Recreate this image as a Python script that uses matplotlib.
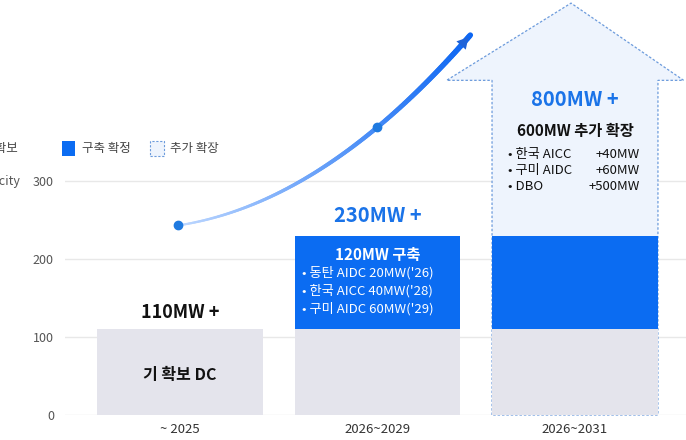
import matplotlib
matplotlib.use("Agg")
import matplotlib.pyplot as plt
import numpy as np
from matplotlib.patches import Polygon, Rectangle
from matplotlib.collections import LineCollection

plt.rcParams['font.family'] = ['Noto Sans CJK KR', 'DejaVu Sans']

categories = ["~ 2025", "2026~2029", "2026~2031"]
secured = [110, 110, 110]
confirmed = [0, 120, 120]
totals = [110, 230, 800]
yticks = [0, 100, 200, 300]

GREY = "#e4e4ec"; BLUE = "#0b6cf2"; LIGHT = "#eef4fd"; EDGE = "#6c9bdc"; TBLUE = "#1a73e8"

fig = plt.figure(figsize=(6.86, 4.40), dpi=100)
ax = fig.add_axes([65/686, 25/440, 621/686, 415/440])
ax.set_xlim(-0.582, 2.562)
ax.set_ylim(0, 532)
for s in ax.spines.values():
    s.set_visible(False)
ax.set_yticks(yticks)
ax.tick_params(axis='y', length=0, labelsize=9, labelcolor="#555555", pad=8)
ax.tick_params(axis='x', length=0, labelsize=9.5, labelcolor="#333333", pad=6)
ax.set_xticks(range(3))
ax.set_xticklabels(categories)
ax.grid(axis='y', color="#e8e8e8", lw=1)
ax.set_axisbelow(True)

w = 0.84
x = np.arange(3)
c = 2; hw = w/2
body_top = 429; head_top = 528; head_half = 0.6
arrow = Polygon([(c-hw, 0), (c-hw, body_top), (c-head_half-0.05, body_top), (c-0.02, head_top),
                 (c+head_half-0.05, body_top), (c+hw, body_top), (c+hw, 0)], closed=True,
                facecolor=LIGHT, edgecolor=EDGE, ls=(0, (2, 1.5)), lw=0.9, zorder=2, clip_on=False)
ax.add_patch(arrow)
ax.bar(x, secured, w, color=GREY, zorder=3)
ax.bar(x, confirmed, w, bottom=secured, color=BLUE, zorder=3)

# curved gradient arrow through the two dots
kx = [-0.01, 1.0, 1.47]; ky = [243, 369, 487]
coef = np.polyfit(kx, ky, 2)
xs = np.linspace(kx[0], kx[-1], 200)
pts = np.column_stack([xs, np.polyval(coef, xs)])
segs = np.stack([pts[:-1], pts[1:]], axis=1)
t = np.linspace(0, 1, 199)
cols = [(0.75-0.7*v, 0.85-0.45*v, 1.0-0.05*v) for v in t]
ax.add_collection(LineCollection(segs, colors=cols, linewidths=np.linspace(1.5, 4, 199), zorder=4, capstyle='round'))
ax.annotate("", xy=tuple(pts[-1]), xytext=tuple(pts[-10]),
            arrowprops=dict(arrowstyle="-|>,head_length=0.8,head_width=0.45", color="#1f63d8", lw=0), zorder=5)
ax.plot(kx[:2], ky[:2], 'o', color="#1f7ae0", ms=6, zorder=5)

ax.text(0, 131, "110MW +", ha='center', va='center', fontsize=13, fontweight='bold', color="#111111", zorder=6)
ax.text(0, 51, "기 확보 DC", ha='center', va='center', fontsize=11.5, fontweight='bold', color="#111111", zorder=6)
ax.text(1, 256, "230MW +", ha='center', va='center', fontsize=14.5, fontweight='bold', color=TBLUE, zorder=6)
ax.text(1, 205, "120MW 구축", ha='center', va='center', fontsize=11, fontweight='bold', color="white", zorder=6)
for i, s in enumerate(["• 동탄 AIDC 20MW('26)", "• 한국 AICC 40MW('28)", "• 구미 AIDC 60MW('29)"]):
    ax.text(0.62, 182 - 23*i, s, ha='left', va='center', fontsize=9.5, color="white", zorder=6)
ax.text(2, 404, "800MW +", ha='center', va='center', fontsize=14.5, fontweight='bold', color=TBLUE, zorder=6)
ax.text(2, 364, "600MW 추가 확장", ha='center', va='center', fontsize=11, fontweight='bold', color="#111111", zorder=6)
for i, (a, b) in enumerate([("• 한국 AICC", "+40MW"), ("• 구미 AIDC", "+60MW"), ("• DBO", "+500MW")]):
    ax.text(1.66, 334 - 20.5*i, a, ha='left', va='center', fontsize=9.5, color="#111111", zorder=6)
    ax.text(2.33, 334 - 20.5*i, b, ha='right', va='center', fontsize=9.5, color="#111111", zorder=6)

def fx(px): return px/686
def fy(py): return 1 - py/440
fig.text(fx(20), fy(181), "Capacity", ha='right', va='center', fontsize=9, color="#555555")
fig.patches.append(Rectangle((fx(-20), fy(156)), 13/686, 15/440, transform=fig.transFigure, facecolor=GREY))
fig.text(fx(0)-0.045, fy(148), "기존 확보", ha='left', va='center', fontsize=9, color="#444444")
fig.patches.append(Rectangle((fx(62), fy(156)), 13/686, 15/440, transform=fig.transFigure, facecolor=BLUE))
fig.text(fx(82), fy(148), "구축 확정", ha='left', va='center', fontsize=9, color="#444444")
fig.patches.append(Rectangle((fx(150), fy(156)), 14/686, 15/440, transform=fig.transFigure, facecolor=LIGHT,
                             edgecolor=EDGE, ls=(0, (2, 1.5)), lw=0.8))
fig.text(fx(170), fy(148), "추가 확장", ha='left', va='center', fontsize=9, color="#444444")

fig.savefig("out.png", dpi=100)
